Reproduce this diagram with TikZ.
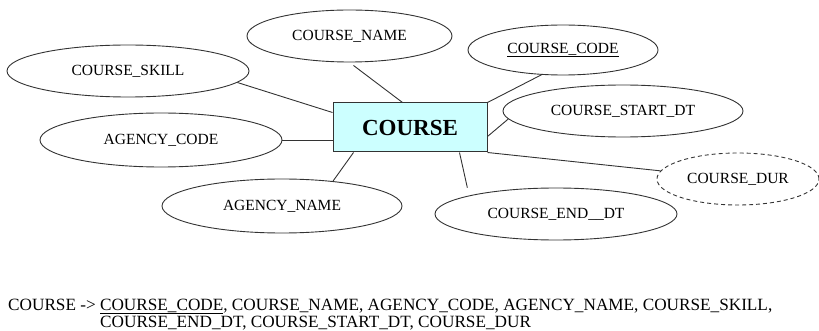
\documentclass[tikz,border=0pt]{standalone}
\usepackage{fontspec}
\setmainfont{Liberation Serif}
\usetikzlibrary{shapes.geometric,calc}
\definecolor{boxfill}{HTML}{CCFFFF}
\definecolor{edgecol}{HTML}{333333}
\begin{document}
\begin{tikzpicture}[x=1pt,y=-1pt,
  attr/.style={draw=edgecol,line width=0.9pt,ellipse,inner sep=0pt,
    font=\fontsize{15.5}{18}\selectfont},
  entity/.style={draw=edgecol,line width=1pt,fill=boxfill,inner sep=0pt,
    minimum width=154pt,minimum height=49pt,font=\fontsize{23}{26}\selectfont\bfseries},
  link/.style={draw=edgecol,line width=0.9pt},
  rel/.style={font=\fontsize{17.2}{20}\selectfont,inner sep=0pt}]
\useasboundingbox (0,0) rectangle (819,331);

\node[entity] (box) at (410,127.5) {COURSE};

\node[attr,minimum width=205pt,minimum height=52pt] (cname) at (349.5,36) {COURSE\_NAME};
\node[attr,minimum width=190pt,minimum height=50pt] (ccode) at (563,50) {\underline{COURSE\_CODE}};
\node[attr,minimum width=242pt,minimum height=52pt] (cskill) at (128,71) {COURSE\_SKILL};
\node[attr,minimum width=242pt,minimum height=54pt] (acode) at (161,140) {AGENCY\_CODE};
\node[attr,minimum width=240pt,minimum height=54pt] (aname) at (282,206) {AGENCY\_NAME};
\node[attr,minimum width=240pt,minimum height=52pt] (cstart) at (623,111) {COURSE\_START\_DT};
\node[attr,dashed,dash pattern=on 4pt off 3pt,minimum width=162pt,minimum height=52pt] (cdur) at (738,179) {COURSE\_DUR};
\node[attr,minimum width=242pt,minimum height=52pt] (cend) at (556,214) {COURSE\_END\_\_DT};

\draw[link] (cskill.-6) -- ([yshift=-10pt]box.north west);
\draw[link] (acode.east) -- (acode.east -| box.west);
\draw[link] (aname.26) -- ([xshift=21pt]box.south west);
\draw[link,shorten <=5pt] (cname.south) -- ([xshift=70pt]box.north west);
\draw[link] (ccode.-131) -- (box.north east);
\draw[link] (cstart.-176) -- ([yshift=-34pt]box.north east);
\draw[link] (box.south east) -- (cdur.174);
\draw[link,shorten >=8pt] ([xshift=-28pt]box.south east) -- (cend.168);

\node[rel,anchor=base west] (rel1) at (8,310) {COURSE -> \underline{COURSE\_CODE}, COURSE\_NAME, AGENCY\_CODE, AGENCY\_NAME, COURSE\_SKILL,};
\node[rel,anchor=base west] (rel2) at (100,327) {COURSE\_END\_DT, COURSE\_START\_DT, COURSE\_DUR};
\end{tikzpicture}
\end{document}
